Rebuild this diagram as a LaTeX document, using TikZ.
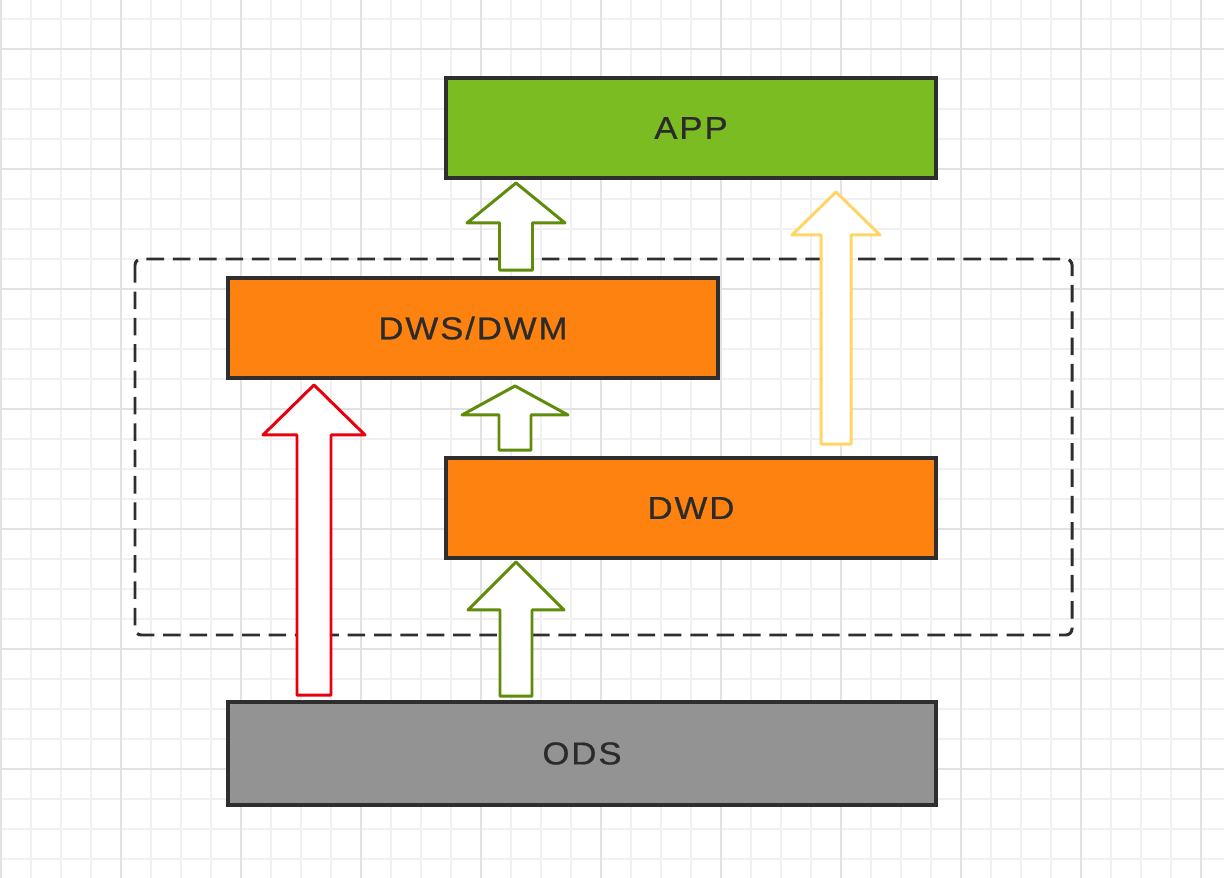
\documentclass[tikz,border=0pt]{standalone}
\usepackage{fontspec}
\setmainfont{Liberation Sans}[LetterSpace=6, FakeStretch=1.1, FakeBold=0.6]
\usetikzlibrary{calc}

\definecolor{appgreen}{HTML}{7ABC22}
\definecolor{dworange}{HTML}{FD8210}
\definecolor{odsgray}{HTML}{939393}
\definecolor{boxline}{HTML}{2E2E2E}
\definecolor{textdark}{HTML}{2B2B2B}
\definecolor{flowgreen}{HTML}{5F8C0A}
\definecolor{flowred}{HTML}{E8000F}
\definecolor{flowyellow}{HTML}{FFD666}
\definecolor{gridminor}{HTML}{F0F0F0}
\definecolor{gridmajor}{HTML}{E2E2E2}

\tikzset{
  layer/.style={draw=boxline, line width=1.8pt, outer sep=0pt,
    minimum width=9.8cm, minimum height=2cm, text=textdark,
    font=\fontsize{18}{21}\selectfont},
  flow/.style={line width=1.7pt, line join=round, fill=white},
}

% fat up arrow: style, start, end, shaft half, head half, head length
\newcommand{\fatarrow}[6]{%
  \draw[#1] ($(#2)+(-#4,0)$) -- ($(#2|-#3)+(-#4,#6)$) -- ($(#2|-#3)+(-#5,#6)$)
    -- (#2|-#3) -- ($(#2|-#3)+(#5,#6)$) -- ($(#2|-#3)+(#4,#6)$)
    -- ($(#2)+(#4,0)$) -- cycle;}

\begin{document}
\begin{tikzpicture}[x=0.02cm, y=-0.02cm]
\useasboundingbox (0,0) rectangle (1224,878);
\fill[white] (0,0) rectangle (1224,878);
% grid
\foreach \gx in {1,31,...,1201} \draw[gridminor, line width=0.6pt] (\gx,0) -- (\gx,878);
\foreach \gy in {19,49,...,859} \draw[gridminor, line width=0.6pt] (0,\gy) -- (1224,\gy);
\foreach \gx in {1,121,...,1201} \draw[gridmajor, line width=1pt] (\gx,0) -- (\gx,878);
\foreach \gy in {49,169,...,769} \draw[gridmajor, line width=1pt] (0,\gy) -- (1224,\gy);

% warehouse group
\draw[boxline, line width=1.7pt, dash pattern=on 10pt off 5pt, rounded corners=3.5pt]
  (135,259) rectangle (1072,635);

\node[layer, fill=appgreen] (app) at (691,128) {APP};
\node[layer, fill=dworange] (dws) at (473,328) {DWS/DWM};
\node[layer, fill=dworange] (dwd) at (691,508) {DWD};
\node[layer, fill=odsgray, minimum width=14.16cm, minimum height=2.06cm] (ods) at (582,753.5) {ODS};

\coordinate (a1s) at ($(dws.north -| 516,0)+(0,-8)$);
\coordinate (a1e) at ($(app.south -| 516,0)+(0,5)$);
\coordinate (a2s) at ($(dwd.north -| 515,0)+(0,-8)$);
\coordinate (a2e) at ($(dws.south -| 515,0)+(0,8)$);
\coordinate (a3s) at ($(ods.north -| 516,0)+(0,-6)$);
\coordinate (a3e) at ($(dwd.south -| 516,0)+(0,4)$);
\coordinate (rs) at ($(ods.north -| 314,0)+(0,-7)$);
\coordinate (re) at ($(dws.south -| 314,0)+(0,7)$);
\coordinate (ys) at ($(dwd.north -| 836,0)+(0,-14)$);
\coordinate (ye) at ($(app.south -| 836,0)+(0,14)$);

\fatarrow{flow, draw=flowgreen}{a1s}{a1e}{16.5}{49}{40}
\fatarrow{flow, draw=flowgreen}{a2s}{a2e}{16}{53}{29}
\fatarrow{flow, draw=flowgreen}{a3s}{a3e}{16}{48}{48}
\fatarrow{flow, draw=flowred}{rs}{re}{17}{51}{50}
\fatarrow{flow, draw=flowyellow}{ys}{ye}{15}{44}{43}
\end{tikzpicture}
\end{document}
